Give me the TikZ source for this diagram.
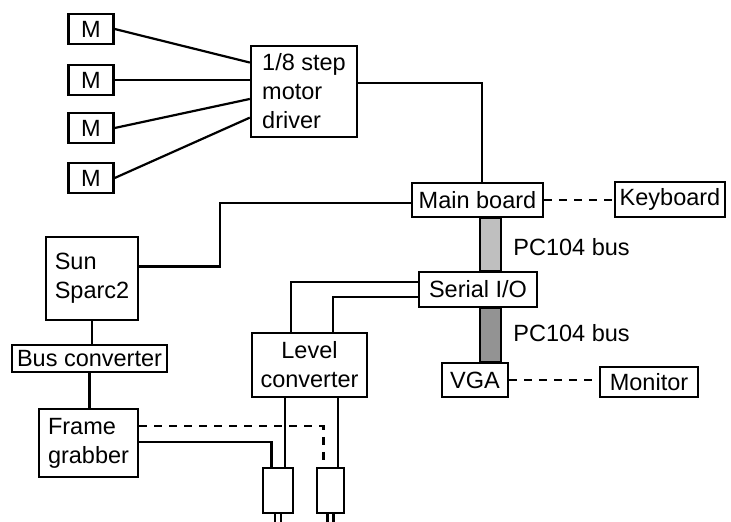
\documentclass[tikz,border=0pt]{standalone}
\usepackage{fontspec}
\setmainfont{Liberation Sans}
\usetikzlibrary{calc}
\begin{document}
\begin{tikzpicture}[x=0.5pt, y=-0.5pt,
    box/.style={draw, line width=1.2pt, inner sep=0pt, align=left,
        font=\fontsize{11.75}{14.5}\selectfont},
    link/.style={line width=1.1pt},
    dashlink/.style={line width=1.1pt, dash pattern=on 4pt off 3.5pt},
    busbar/.style={draw, line width=0.6pt}]
    \useasboundingbox (0,0) rectangle (731,522);

    % Motors and driver
    \node[box, minimum width=22.5pt, minimum height=15pt] (m1) at (91, 29) {M};
    \node[box, minimum width=22.5pt, minimum height=15pt] (m2) at (91, 80) {M};
    \node[box, minimum width=22.5pt, minimum height=15pt] (m3) at (91, 128) {M};
    \node[box, minimum width=22.5pt, minimum height=15pt] (m4) at (91, 178) {M};
    \node[box, minimum width=53pt, minimum height=45.5pt] (drv) at (304, 91.5) {1/8 step\\motor\\driver};

    \draw[link] (m1.east) -- ($(drv.north west)!0.19!(drv.south west)$);
    \draw[link] (m2.east) -- (m2.east -| drv.west);
    \draw[link] (m3.east) -- ($(drv.north west)!0.58!(drv.south west)$);
    \draw[link] (m4.east) -- ($(drv.north west)!0.78!(drv.south west)$);

    % PC104 stack
    \node[box, minimum width=65.5pt, minimum height=17pt] (main) at (477.5, 200) {Main board};
    \node[box, minimum width=55pt, minimum height=17.5pt] (kbd) at (670, 199.5) {Keyboard};
    \node[box, minimum width=59pt, minimum height=17.5pt] (sio) at (478, 289.5) {Serial I/O};
    \node[box, minimum width=33pt, minimum height=17pt] (vga) at (475, 380) {VGA};
    \node[box, minimum width=49pt, minimum height=15pt] (mon) at (649, 382) {Monitor};

    \draw[busbar, fill=gray!50] (main.south -| 480,0) rectangle (sio.north -| 501,0);
    \draw[busbar, fill=gray!85] (sio.south -| 480,0) rectangle (vga.north -| 501,0);
    \node[anchor=west, inner sep=0pt, font=\fontsize{11.75}{14.5}\selectfont] (bus1) at (513, 247) {PC104 bus};
    \node[anchor=west, inner sep=0pt, font=\fontsize{11.75}{14.5}\selectfont] (bus2) at (513, 333) {PC104 bus};

    \draw[link] ($(drv.north east)!0.41!(drv.south east)$) -| ([xshift=2.25pt]main.north);
    \draw[dashlink] (main.east) -- (main.east -| kbd.west);
    \draw[dashlink] (vga.east) -- (vga.east -| mon.west);

    % Sun side
    \node[box, minimum width=46pt, minimum height=41.5pt] (sun) at (92, 278.5) {Sun\\Sparc2};
    \node[box, minimum width=77.5pt, minimum height=13.5pt] (bconv) at (89.5, 358.5) {Bus converter};
    \node[box, minimum width=49.5pt, minimum height=34pt] (fg) at (88.5, 443) {Frame\\grabber};

    \coordinate (sunbend) at (220, 203);
    \draw[link] ($(sun.north east)!0.36!(sun.south east)$) -| (sunbend) -- (sunbend -| main.west);
    \draw[link] (sun.south) -- (sun.south |- bconv.north);
    \draw[link] (bconv.south) -- (bconv.south |- fg.north);

    % Level converter and plugs
    \node[box, align=center, minimum width=57.5pt, minimum height=32pt] (lvl) at (309.5, 365) {Level\\converter};
    \node[box, minimum width=15pt, minimum height=22.5pt] (plug1) at (278, 490.5) {};
    \node[box, minimum width=13.5pt, minimum height=22.5pt] (plug2) at (330.5, 490.5) {};

    \draw[link] ($(sio.north west)!0.31!(sio.south west)$) -| ($(lvl.north west)!0.34!(lvl.north east)$);
    \draw[link] ($(sio.north west)!0.69!(sio.south west)$) -| ($(lvl.north west)!0.70!(lvl.north east)$);
    \draw[link] ($(lvl.south west)!0.29!(lvl.south east)$) coordinate (l1) -- (l1 |- plug1.north);
    \draw[link] ($(lvl.south west)!0.74!(lvl.south east)$) coordinate (l2) -- (l2 |- plug2.north);
    \draw[link] ($(fg.north east)!0.49!(fg.south east)$) -| ($(plug1.north west)!0.3!(plug1.north east)$);
    \draw[dashlink] ($(fg.north east)!0.26!(fg.south east)$) -| ($(plug2.north west)!0.26!(plug2.north east)$);

    % pins
    \foreach \p in {0.4, 0.6} {
        \draw[link] ($(plug1.south west)!\p!(plug1.south east)$) -- +(0, 10);
        \draw[link] ($(plug2.south west)!\p!(plug2.south east)$) -- +(0, 10);
    }
\end{tikzpicture}
\end{document}
